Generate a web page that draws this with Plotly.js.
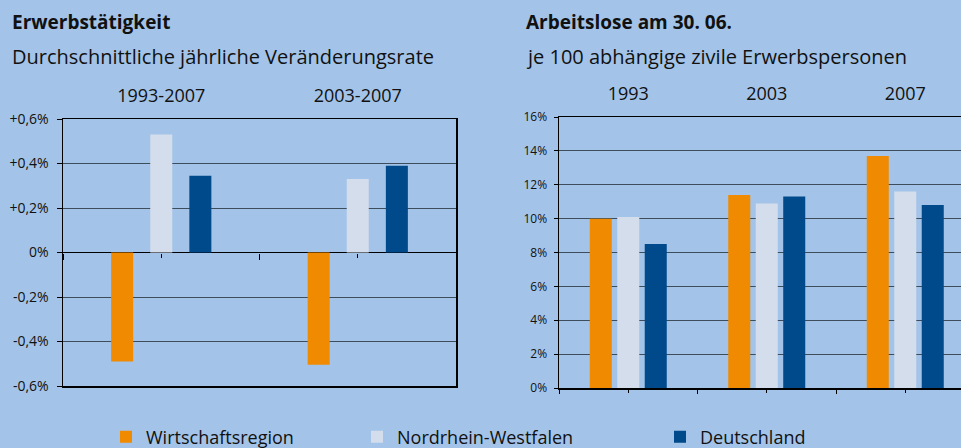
<!DOCTYPE html>
<html><head><meta charset="utf-8">
<script src="https://cdn.plot.ly/plotly-3.0.1.min.js"></script>
<style>html,body{margin:0;padding:0;background:#a3c4e8}#chart{width:961px;height:448px}</style>
</head><body><div id="chart"></div>
<script>
// ---- data ----
const seriesNames = ['Wirtschaftsregion', 'Nordrhein-Westfalen', 'Deutschland'];

const categoriesLeft = ['1993-2007', '2003-2007'];
const wirtschaftLeft = [-0.49, -0.505];
const nrwLeft = [0.53, 0.33];
const deutschlandLeft = [0.345, 0.39];
const tickValsLeft = [-0.6, -0.4, -0.2, 0, 0.2, 0.4, 0.6];
const tickTextLeft = ['-0,6%', '-0,4%', '-0,2%', '0%', '+0,2%', '+0,4%', '+0,6%'];

const categoriesRight = ['1993', '2003', '2007'];
const wirtschaftRight = [10.0, 11.4, 13.7];
const nrwRight = [10.1, 10.9, 11.6];
const deutschlandRight = [8.5, 11.3, 10.8];
const tickValsRight = [0, 2, 4, 6, 8, 10, 12, 14, 16];
const tickTextRight = ['0%', '2%', '4%', '6%', '8%', '10%', '12%', '14%', '16%'];

const titleLeft = 'Erwerbstätigkeit';
const subtitleLeft = 'Durchschnittliche jährliche Veränderungsrate';
const titleRight = 'Arbeitslose am 30. 06.';
const subtitleRight = 'je 100 abhängige zivile Erwerbspersonen';

// ---- styles ----
const colors = ['#f08a00', '#d3ddeb', '#00498a'];
const bg = '#a3c4e8';
const FONT = 'Open Sans, sans-serif';
const gridColor = '#3e4d5c';

const leftOffsets = [-0.255, -0.056, 0.143], leftWidth = 0.112;
const rightOffsets = [-0.278, -0.0794, 0.119], rightWidth = 0.159;

const leftVals = [wirtschaftLeft, nrwLeft, deutschlandLeft];
const rightVals = [wirtschaftRight, nrwRight, deutschlandRight];
const legends = ['legend', 'legend2', 'legend3'];

const traces = [];
seriesNames.forEach((n, i) => {
  traces.push({type: 'bar', name: n, x: categoriesLeft, y: leftVals[i], xaxis: 'x', yaxis: 'y',
    offset: leftOffsets[i], width: leftWidth, marker: {color: colors[i], line: {width: 0}},
    legend: legends[i], showlegend: true, hoverinfo: 'skip'});
});
seriesNames.forEach((n, i) => {
  traces.push({type: 'bar', name: n, x: categoriesRight, y: rightVals[i], xaxis: 'x2', yaxis: 'y2',
    offset: rightOffsets[i], width: rightWidth, marker: {color: colors[i], line: {width: 0}},
    showlegend: false, hoverinfo: 'skip'});
});
// invisible helpers for tick-only axes
[['x3', 'y', categoriesLeft], ['x5', 'y', categoriesLeft], ['x4', 'y2', categoriesRight], ['x6', 'y2', categoriesRight]].forEach(([xa, ya, cats]) => {
  traces.push({type: 'scatter', mode: 'markers', x: cats, y: cats.map(() => null), xaxis: xa, yaxis: ya,
    showlegend: false, hoverinfo: 'skip', marker: {opacity: 0}});
});

const W = 961, H = 448;
const leftDomX = [63 / W, 456 / W];
const leftDomY = [1 - 386 / H, 1 - 119 / H];
const rightDomX = [559 / W, 1];
const rightDomY = [1 - 388 / H, 1 - 117 / H];
const rightRange = [-0.5, -0.5 + (W - 559) / 138.5];
const zeroPosLeft = leftDomY[0] + (0 - (-0.6)) / 1.2 * (leftDomY[1] - leftDomY[0]);

function tickAxis(over, dom, pos, rng, cats, onBoundaries, len) {
  return {overlaying: over, anchor: 'free', position: pos, domain: dom, type: 'category',
    categoryorder: 'array', categoryarray: cats, range: rng,
    tickson: onBoundaries ? 'boundaries' : 'labels', ticks: 'outside', ticklen: len, tickwidth: 1,
    tickcolor: '#000', showticklabels: false, showline: false, showgrid: false, zeroline: false};
}

const catAxis = (dom, anchor, cats, rng) => ({
  domain: dom, anchor: anchor, type: 'category', categoryorder: 'array', categoryarray: cats, range: rng,
  side: 'top', showline: true, linecolor: '#000', linewidth: 1.5, mirror: true, ticks: '',
  ticklabelstandoff: 8, showgrid: false, zeroline: false,
  tickfont: {family: FONT, size: 18, color: '#111'}
});

const legendBase = (x) => ({orientation: 'h', x: x, xanchor: 'left', y: 1 - 437 / H, yanchor: 'middle',
  bgcolor: 'rgba(0,0,0,0)', borderwidth: 0, font: {family: FONT, size: 18, color: '#111'},
  itemwidth: 30, itemclick: false, itemdoubleclick: false});

const layout = {
  width: W, height: H, margin: {l: 0, r: 0, t: 0, b: 0, autoexpand: false},
  paper_bgcolor: bg, plot_bgcolor: bg, barmode: 'overlay',
  font: {family: FONT, color: '#111'},
  xaxis: catAxis(leftDomX, 'y', categoriesLeft, [-0.5, 1.5]),
  yaxis: {domain: leftDomY, anchor: 'x', range: [-0.6, 0.6], tickmode: 'array', tickvals: tickValsLeft,
    ticktext: tickTextLeft, showline: true, mirror: true, linecolor: '#000', linewidth: 1.5,
    ticks: 'outside', ticklen: 5, tickcolor: '#000', gridcolor: gridColor, gridwidth: 1,
    zeroline: true, zerolinecolor: '#000', zerolinewidth: 1.5, ticklabelstandoff: 5,
    tickfont: {family: FONT, size: 14, color: '#111'}},
  xaxis2: catAxis(rightDomX, 'y2', categoriesRight, rightRange),
  yaxis2: {domain: rightDomY, anchor: 'x2', range: [0, 16], tickmode: 'array', tickvals: tickValsRight,
    ticktext: tickTextRight, showline: true, mirror: false, linecolor: '#000', linewidth: 1.5,
    ticks: 'outside', ticklen: 4, tickcolor: '#000', gridcolor: gridColor, gridwidth: 1,
    zeroline: false, ticklabelstandoff: 4, tickfont: {family: FONT, size: 12, color: '#111'}},
  xaxis3: tickAxis('x', leftDomX, zeroPosLeft, [-0.5, 1.5], categoriesLeft, true, 6),
  xaxis5: tickAxis('x', leftDomX, zeroPosLeft, [-0.5, 1.5], categoriesLeft, false, 4),
  xaxis4: tickAxis('x2', rightDomX, rightDomY[0], rightRange, categoriesRight, true, 5),
  xaxis6: tickAxis('x2', rightDomX, rightDomY[0], rightRange, categoriesRight, false, 4),
  legend: legendBase(106 / W),
  legend2: legendBase(357 / W),
  legend3: legendBase(660 / W),
  annotations: [
    {text: '<b>' + titleLeft + '</b>', x: 10 / W, y: 1 - 22 / H, size: 19},
    {text: subtitleLeft, x: 10 / W, y: 1 - 57 / H, size: 20},
    {text: '<b>' + titleRight + '</b>', x: 524 / W, y: 1 - 22 / H, size: 19},
    {text: subtitleRight, x: 524 / W, y: 1 - 57 / H, size: 20}
  ].map(a => ({xref: 'paper', yref: 'paper', xanchor: 'left', yanchor: 'middle', showarrow: false,
    text: a.text, x: a.x, y: a.y, font: {family: FONT, size: a.size, color: '#111'}}))
};

Plotly.newPlot('chart', traces, layout, {staticPlot: true, displayModeBar: false});
</script></body></html>
